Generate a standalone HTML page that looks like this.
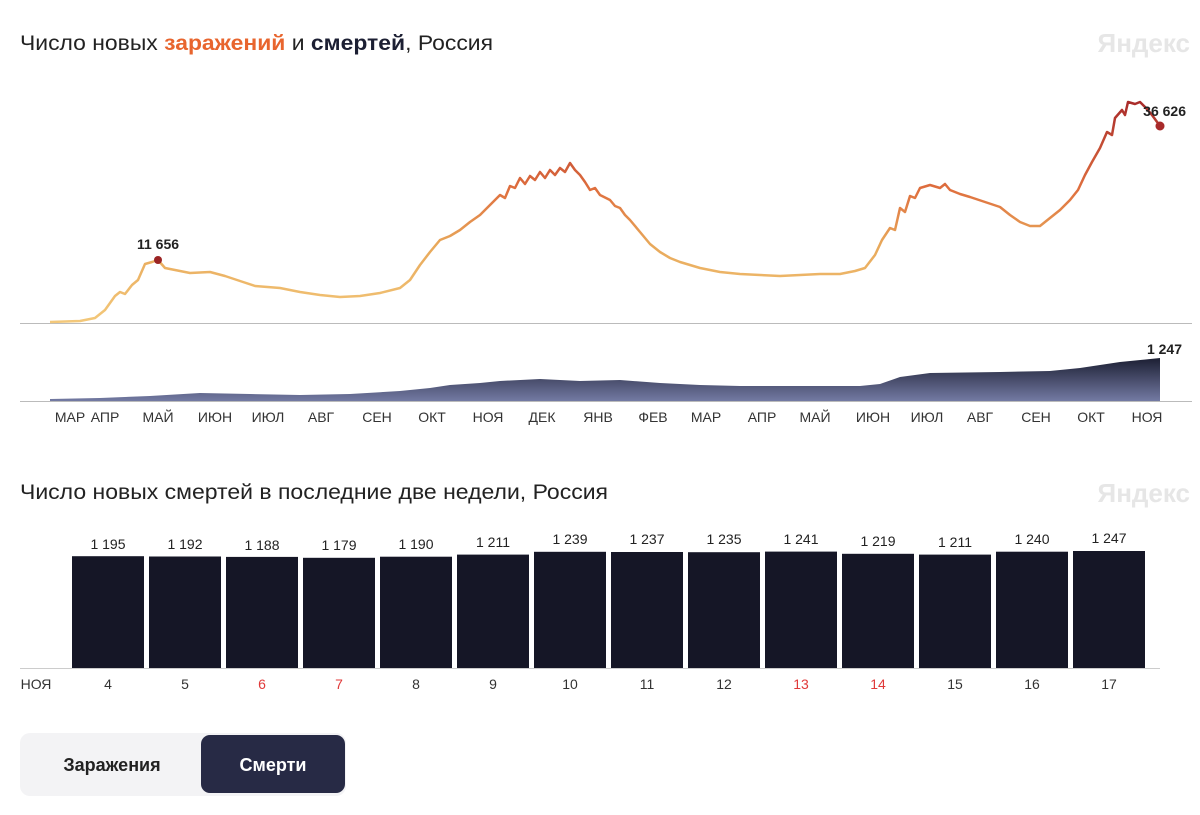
<!DOCTYPE html><html><head><meta charset="utf-8"><style>
body{margin:0;background:#fff;font-family:"Liberation Sans","DejaVu Sans",sans-serif;}
svg{display:block}
</style></head><body>
<svg width="1200" height="815" viewBox="0 0 1200 815" xmlns="http://www.w3.org/2000/svg" font-family="Liberation Sans, DejaVu Sans, sans-serif">
<defs>
<linearGradient id="lg" gradientUnits="userSpaceOnUse" x1="0" y1="323" x2="0" y2="100">
<stop offset="0" stop-color="#f3c87a"/><stop offset="0.35" stop-color="#e8a85a"/><stop offset="0.6" stop-color="#df6f3e"/><stop offset="1" stop-color="#a82a2a"/>
</linearGradient>
<linearGradient id="ag" x1="0" y1="0" x2="0" y2="1">
<stop offset="0" stop-color="#1c1f33"/><stop offset="1" stop-color="#737aa3"/>
</linearGradient>
</defs>
<text x="20" y="50" font-size="21" fill="#222" textLength="473" lengthAdjust="spacingAndGlyphs">Число новых <tspan fill="#e8652e" font-weight="bold">заражений</tspan> и <tspan font-weight="bold" fill="#1c1f33">смертей</tspan>, Россия</text>
<text x="1190" y="52" font-size="26" font-weight="bold" fill="#e6e6e6" text-anchor="end">Яндекс</text>
<line x1="20" y1="323.5" x2="1192" y2="323.5" stroke="#bbb"/>
<polyline fill="none" stroke="url(#lg)" stroke-width="2.5" stroke-linejoin="round" points="50,322 80,321 95,318 105,310 115,296 120,292 125,294 132,285 138,280 145,264 152,262 158,260 165,268 175,270 190,273 210,272 225,276 240,281 255,286 280,288 300,292 320,295 340,297 360,296 380,293 400,288 410,280 420,265 430,252 440,240 450,236 460,230 470,222 480,215 490,205 500,195 505,198 510,186 515,188 520,178 525,184 530,176 535,180 540,172 545,178 550,170 555,175 560,168 565,172 570,163 575,170 580,175 585,182 590,190 595,188 600,195 610,200 615,206 620,208 625,215 630,220 640,232 650,244 660,252 670,258 680,262 690,265 700,268 720,272 740,274 760,275 780,276 800,275 820,274 840,274 855,271 865,268 875,255 882,240 890,228 895,230 900,208 905,212 910,196 915,198 920,188 930,185 940,188 945,184 950,190 960,194 970,197 985,202 1000,207 1010,215 1020,222 1030,226 1040,226 1050,218 1060,210 1070,200 1078,190 1085,175 1092,162 1100,148 1107,132 1112,135 1115,118 1122,110 1125,115 1128,102 1135,104 1140,102 1146,108 1152,115 1160,126"/>
<circle cx="158" cy="260" r="4" fill="#9b2424"/>
<circle cx="1160" cy="126" r="4.5" fill="#a82a2a"/>
<text x="158" y="249" font-size="14" font-weight="bold" fill="#222" text-anchor="middle">11 656</text>
<text x="1186" y="116" font-size="14" font-weight="bold" fill="#222" text-anchor="end">36 626</text>
<line x1="20" y1="401.5" x2="1192" y2="401.5" stroke="#bbb"/>
<polygon fill="url(#ag)" points="50,401 50,399 100,398 150,396 200,393 250,394 300,395 350,394 400,391 430,388 450,385 480,383 500,381 540,379 580,381 620,380 660,383 700,385 740,386 800,386 860,386 880,384 900,377 930,373 1000,372 1050,371 1080,368 1120,362 1160,358 1160,401"/>
<text x="1182" y="354" font-size="14" font-weight="bold" fill="#222" text-anchor="end">1 247</text>
<g font-size="14" fill="#333" text-anchor="middle">
<text x="70" y="422">МАР</text><text x="105" y="422">АПР</text><text x="158" y="422">МАЙ</text><text x="215" y="422">ИЮН</text><text x="268" y="422">ИЮЛ</text><text x="321" y="422">АВГ</text><text x="377" y="422">СЕН</text><text x="432" y="422">ОКТ</text><text x="488" y="422">НОЯ</text><text x="542" y="422">ДЕК</text><text x="598" y="422">ЯНВ</text><text x="653" y="422">ФЕВ</text><text x="706" y="422">МАР</text><text x="762" y="422">АПР</text><text x="815" y="422">МАЙ</text><text x="873" y="422">ИЮН</text><text x="927" y="422">ИЮЛ</text><text x="980" y="422">АВГ</text><text x="1036" y="422">СЕН</text><text x="1091" y="422">ОКТ</text><text x="1147" y="422">НОЯ</text>
</g>
<text x="20" y="499" font-size="21" fill="#222" textLength="588" lengthAdjust="spacingAndGlyphs">Число новых смертей в последние две недели, Россия</text>
<text x="1190" y="502" font-size="26" font-weight="bold" fill="#e6e6e6" text-anchor="end">Яндекс</text>
<line x1="20" y1="668.5" x2="1160" y2="668.5" stroke="#ccc"/>
<g fill="#151626">
<rect x="72" y="556.2" width="72" height="111.8"/><rect x="149" y="556.5" width="72" height="111.5"/><rect x="226" y="556.9" width="72" height="111.1"/><rect x="303" y="557.8" width="72" height="110.2"/><rect x="380" y="556.7" width="72" height="111.3"/><rect x="457" y="554.6" width="72" height="113.4"/><rect x="534" y="551.8" width="72" height="116.2"/><rect x="611" y="552" width="72" height="116"/><rect x="688" y="552.2" width="72" height="115.8"/><rect x="765" y="551.6" width="72" height="116.4"/><rect x="842" y="553.8" width="72" height="114.2"/><rect x="919" y="554.6" width="72" height="113.4"/><rect x="996" y="551.7" width="72" height="116.3"/><rect x="1073" y="551" width="72" height="117"/>
</g>
<g font-size="14" fill="#222" text-anchor="middle">
<text x="108" y="549">1 195</text><text x="185" y="549">1 192</text><text x="262" y="550">1 188</text><text x="339" y="550">1 179</text><text x="416" y="549">1 190</text><text x="493" y="547">1 211</text><text x="570" y="544">1 239</text><text x="647" y="544">1 237</text><text x="724" y="544">1 235</text><text x="801" y="544">1 241</text><text x="878" y="546">1 219</text><text x="955" y="547">1 211</text><text x="1032" y="544">1 240</text><text x="1109" y="543">1 247</text>
</g>
<g font-size="14" fill="#333" text-anchor="middle">
<text x="36" y="689">НОЯ</text>
<text x="108" y="689">4</text><text x="185" y="689">5</text><text x="262" y="689" fill="#e03a3a">6</text><text x="339" y="689" fill="#e03a3a">7</text><text x="416" y="689">8</text><text x="493" y="689">9</text><text x="570" y="689">10</text><text x="647" y="689">11</text><text x="724" y="689">12</text><text x="801" y="689" fill="#e03a3a">13</text><text x="878" y="689" fill="#e03a3a">14</text><text x="955" y="689">15</text><text x="1032" y="689">16</text><text x="1109" y="689">17</text>
</g>
<rect x="20" y="733" width="326" height="63" rx="10" fill="#f3f3f5"/>
<rect x="201" y="735" width="144" height="58" rx="9" fill="#272a45"/>
<text x="112" y="771" font-size="18" font-weight="bold" fill="#222" text-anchor="middle">Заражения</text>
<text x="273" y="771" font-size="18" font-weight="bold" fill="#fff" text-anchor="middle">Смерти</text>
</svg>
</body></html>
